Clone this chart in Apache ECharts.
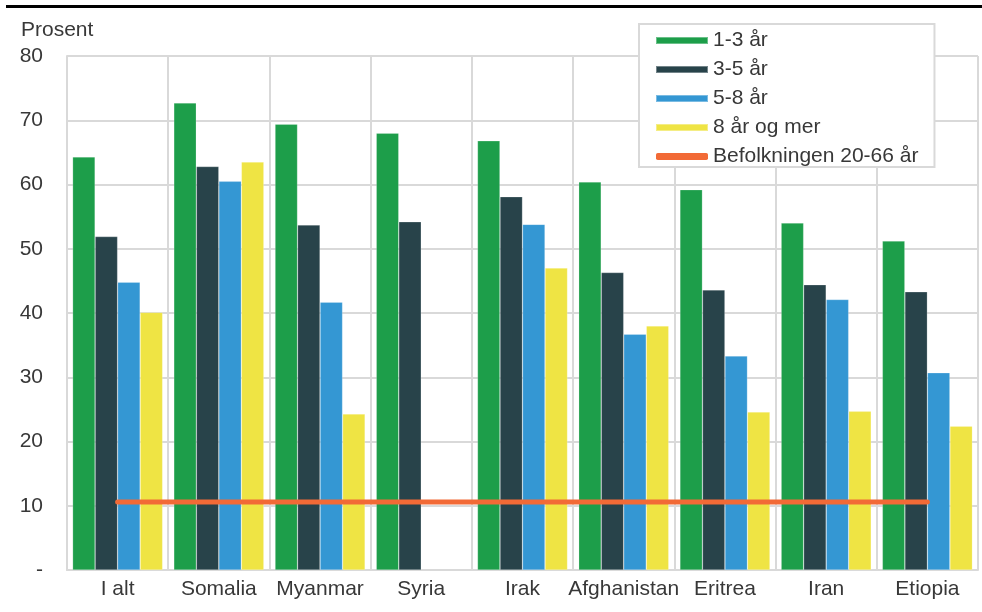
<!DOCTYPE html>
<html>
<head>
<meta charset="utf-8">
<script src="https://cdn.jsdelivr.net/npm/echarts@6/dist/echarts.min.js"></script>
<style>
html,body{margin:0;padding:0;background:#fff;}
#c{width:982px;height:612px;}
</style>
</head>
<body>
<div id="c"></div>
<script>
const categories = ['I alt','Somalia','Myanmar','Syria','Irak','Afghanistan','Eritrea','Iran','Etiopia'];
const seriesNames = ['1-3 år','3-5 år','5-8 år','8 år og mer','Befolkningen 20-66 år'];
const s13 = [64.3, 72.7, 69.4, 68.0, 66.8, 60.4, 59.2, 54.0, 51.2];
const s35 = [51.9, 62.8, 53.7, 54.2, 58.1, 46.3, 43.6, 44.4, 43.3];
const s58 = [44.8, 60.5, 41.7, null, 53.8, 36.7, 33.3, 42.1, 30.7];
const s8p = [40.1, 63.5, 24.3, null, 47.0, 38.0, 24.6, 24.7, 22.4];
const pop = [10.6, 10.6, 10.6, 10.6, 10.6, 10.6, 10.6, 10.6, 10.6];
const yTicks = [0, 10, 20, 30, 40, 50, 60, 70, 80];

const colors = ['#1d9e4a', '#28434a', '#3497d3', '#efe444', '#f26a36'];
const font = 'Liberation Sans, Arial, sans-serif';
const textColor = '#383838';
const chart = echarts.init(document.getElementById('c'), null, {renderer: 'canvas'});

const barSeries = [s13, s35, s58, s8p].map((d, i) => ({
  name: seriesNames[i],
  type: 'bar',
  data: d,
  barGap: '0%',
  barCategoryGap: '11%',
  itemStyle: {color: colors[i], borderColor: 'rgba(255,255,255,0.35)', borderWidth: 0.6},
  emphasis: {disabled: true}
}));

chart.setOption({
  animation: false,
  textStyle: {fontFamily: font},
  graphic: [
    {type: 'rect', shape: {x: 6, y: 5, width: 976, height: 3}, style: {fill: '#000'}},
    {type: 'text', left: 21, top: 20, style: {text: 'Prosent', font: '21px ' + font, fill: textColor}}
  ],
  grid: {left: 67, right: 4, top: 56, bottom: 42, containLabel: false},
  legend: {
    orient: 'vertical',
    left: 639,
    top: 24,
    padding: [6, 16, 0, 16],
    borderColor: '#d9d9d9',
    borderWidth: 2,
    backgroundColor: '#fff',
    itemWidth: 52,
    itemHeight: 7,
    itemGap: 8,
    itemTextGap: 6,
    textStyle: {fontSize: 21, color: textColor, fontFamily: font, lineHeight: 21},
    data: [
      {name: seriesNames[0], icon: 'rect'},
      {name: seriesNames[1], icon: 'rect'},
      {name: seriesNames[2], icon: 'rect'},
      {name: seriesNames[3], icon: 'rect'},
      {name: seriesNames[4], icon: 'roundRect', itemStyle: {color: colors[4]}}
    ]
  },
  xAxis: {
    type: 'category',
    data: categories,
    boundaryGap: true,
    axisLine: {show: true, lineStyle: {color: '#d9d9d9', width: 2}},
    axisTick: {show: false},
    axisLabel: {fontSize: 21, color: textColor, margin: 9, interval: 0, fontFamily: font},
    splitLine: {show: true, interval: 0, lineStyle: {color: '#d9d9d9', width: 2}}
  },
  yAxis: {
    type: 'value',
    min: yTicks[0],
    max: yTicks[yTicks.length - 1],
    interval: 10,
    axisLine: {show: true, lineStyle: {color: '#d9d9d9', width: 2}},
    axisTick: {show: false},
    axisLabel: {
      fontSize: 21, color: textColor, margin: 24, fontFamily: font,
      formatter: v => v === 0 ? '-' : String(v)
    },
    splitLine: {show: true, lineStyle: {color: '#d9d9d9', width: 2}}
  },
  series: barSeries.concat([{
    name: seriesNames[4],
    type: 'line',
    data: pop,
    symbol: 'none',
    lineStyle: {color: colors[4], width: 5, cap: 'round'},
    itemStyle: {color: colors[4]},
    emphasis: {disabled: true},
    z: 5
  }])
});
</script>
</body>
</html>
